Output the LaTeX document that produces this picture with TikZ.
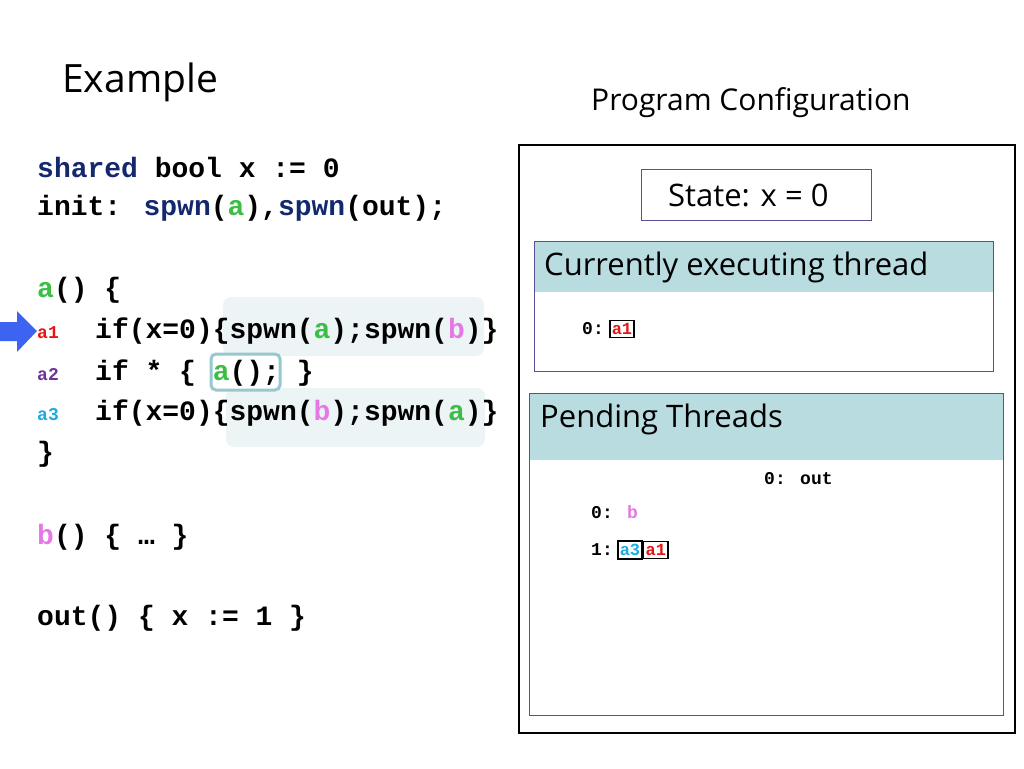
\documentclass[tikz,border=0pt]{standalone}
\usepackage{fontspec}
\setmainfont{Open Sans}
\newfontfamily\cmono{Liberation Mono}
\begin{document}
\begin{tikzpicture}[x=1pt,y=-1pt,
  code/.style={anchor=west,inner sep=0pt,font=\cmono\bfseries\fontsize{28}{30}\selectfont},
  lbl/.style={anchor=west,inner sep=0pt,font=\cmono\bfseries\fontsize{18}{20}\selectfont},
  sm/.style={anchor=west,inner sep=0pt,font=\cmono\bfseries\fontsize{18}{20}\selectfont},
  sans/.style={anchor=west,inner sep=0pt,font=\fontsize{31}{34}\selectfont},
  hl/.style={fill=hlc,draw=none,rounded corners=8pt},
  cell/.style={draw=black,line width=1.5pt,inner xsep=2pt,inner ysep=3pt,font=\cmono\bfseries\fontsize{17}{19}\selectfont}]
\definecolor{kw}{RGB}{20,40,110}
\definecolor{ga}{RGB}{60,190,70}
\definecolor{pb}{RGB}{230,120,230}
\definecolor{ra}{RGB}{230,20,20}
\definecolor{pa}{RGB}{110,50,150}
\definecolor{ca}{RGB}{30,170,220}
\definecolor{hlc}{RGB}{236,244,246}
\definecolor{hdr}{RGB}{184,220,224}
\definecolor{bord}{RGB}{90,80,150}
\definecolor{tbox}{RGB}{150,200,205}
\useasboundingbox (0,0) rectangle (1024,768);
% highlights
\fill[hl] (223,297) rectangle (484,356);
\fill[hl] (226,388) rectangle (485,447);
\draw[tbox,line width=3pt,rounded corners=5pt,fill=white] (211,354) rectangle (280,390);
% title
\node[anchor=west,inner sep=0pt,font=\fontsize{39}{42}\selectfont] (title) at (62,82) {Example};
\node[anchor=west,inner sep=0pt,font=\fontsize{30}{34}\selectfont] (pc) at (591,103) {Program Configuration};
% code
\node[code] (l1) at (37,167) {\textcolor{kw}{shared} bool x := 0};
\node[code] (l2) at (37,208) {init: \textcolor{kw}{spwn}(\textcolor{ga}{a}),\textcolor{kw}{spwn}(out);};
\node[code] (l3) at (37,290) {\textcolor{ga}{a}() \{};
\node[lbl,text=ra] (a1) at (37,333) {a1};
\node[lbl,text=pa] (a2) at (37,375) {a2};
\node[lbl,text=ca] (a3) at (37,415) {a3};
\node[code] (l4) at (95,331) {if(x=0)\{spwn(\textcolor{ga}{a});spwn(\textcolor{pb}{b})\}};
\node[code] (l5) at (95,373) {if * \{ \textcolor{ga}{a}(); \}};
\node[code] (l6) at (95,413) {if(x=0)\{spwn(\textcolor{pb}{b});spwn(\textcolor{ga}{a})\}};
\node[code] (l7) at (37,454) {\}};
\node[code] (l8) at (37,537) {\textcolor{pb}{b}() \{ … \}};
\node[code] (l9) at (37,618) {out() \{ x := 1 \}};
% arrow
\fill[fill={rgb,255:red,60;green,100;blue,240}] (0,322) -- (17,322) -- (17,311) -- (37,331) -- (17,352) -- (17,341) -- (0,341) -- cycle;
% outer box
\draw[black,line width=2.2pt] (519,145) rectangle (1015,733);
\draw[bord,line width=1pt] (641,169) rectangle (871,220);
\node[sans] (st) at (668,195) {State: x = 0};
% current
\fill[hdr] (534,241) rectangle (993,292);
\draw[bord,line width=1pt] (534,241) rectangle (993,371);
\node[sans] (cur) at (544,267) {Currently executing thread};
\node[sm] (c0) at (582,329) {0:};
\node[cell,text=ra,anchor=west] (c0a) at (609,329) {a1};
% pending
\fill[hdr] (529,393) rectangle (1003,460);
\draw[bord,line width=1pt] (529,393) rectangle (1003,715);
\node[sans] (pend) at (540,419) {Pending Threads};
\node[sm] (p0) at (764,479) {0: out};
\node[sm] (q0) at (591,512) {0: \textcolor{pb}{b}};
\node[sm] (q1) at (591,550) {1:};
\node[cell,text=ca,anchor=west] (q1a) at (617,550) {a3};
\node[cell,text=ra,anchor=west] (q1b) at (q1a.east) {a1};
\end{tikzpicture}
\end{document}
